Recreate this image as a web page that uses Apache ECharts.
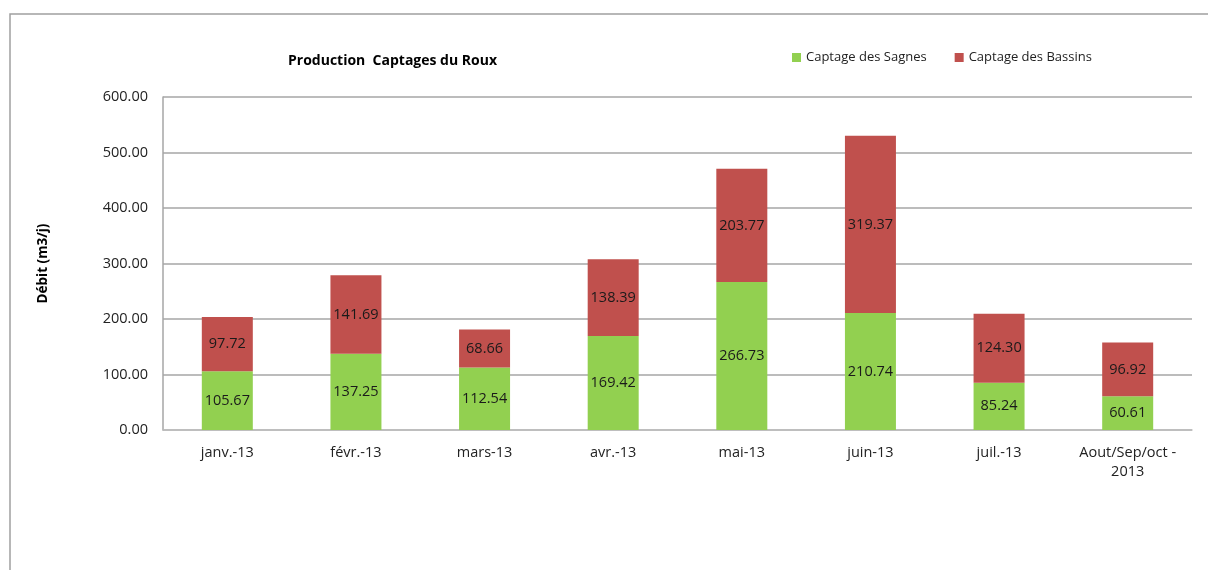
<!DOCTYPE html>
<html>
<head>
<meta charset="utf-8">
<script src="https://cdn.jsdelivr.net/npm/echarts@6/dist/echarts.min.js"></script>
<style>
  html, body { margin: 0; padding: 0; background: #fff; }
  #main { width: 1208px; height: 570px; }
</style>
</head>
<body>
<div id="main"></div>
<script>
  const categories = ['janv.-13', 'févr.-13', 'mars-13', 'avr.-13', 'mai-13', 'juin-13', 'juil.-13', 'Aout/Sep/oct -\n2013'];
  const sagnes = [105.67, 137.25, 112.54, 169.42, 266.73, 210.74, 85.24, 60.61];
  const bassins = [97.72, 141.69, 68.66, 138.39, 203.77, 319.37, 124.30, 96.92];

  const FONT = '"Open Sans", "Liberation Sans", sans-serif';
  const myChart = echarts.init(document.getElementById('main'));

  const barLabel = {
    show: true,
    position: 'inside',
    color: '#1a1a1a',
    fontFamily: FONT,
    fontSize: 14.5,
    formatter: function (p) { return p.value.toFixed(2); }
  };

  const option = {
    backgroundColor: '#fff',
    animation: false,
    textStyle: { fontFamily: FONT },
    graphic: [
      {
        type: 'rect',
        shape: { x: 10, y: 14, width: 1210, height: 570 },
        style: { fill: 'none', stroke: '#a0a0a0', lineWidth: 1.5 }
      }
    ],
    title: {
      text: 'Production  Captages du Roux',
      left: 283,
      top: 49,
      textStyle: { fontFamily: FONT, fontSize: 14, fontWeight: 'bold', color: '#000' }
    },
    legend: {
      left: 787,
      top: 46,
      itemWidth: 9,
      itemHeight: 9,
      itemGap: 28,
      icon: 'rect',
      textStyle: { fontFamily: FONT, fontSize: 13, color: '#222' },
      data: ['Captage des Sagnes', 'Captage des Bassins']
    },
    grid: { left: 163, right: 16, top: 97, bottom: 140, containLabel: false },
    xAxis: {
      type: 'category',
      data: categories,
      axisLine: { lineStyle: { color: '#bfbfbf', width: 1.5 } },
      axisTick: { show: false },
      axisLabel: { color: '#222', fontFamily: FONT, fontSize: 14.5, margin: 13, interval: 0, lineHeight: 19 }
    },
    yAxis: {
      type: 'value',
      min: 0,
      max: 600,
      interval: 100,
      name: 'Débit (m3/j)',
      nameLocation: 'middle',
      nameGap: 113,
      nameRotate: 90,
      nameTextStyle: { fontFamily: FONT, fontSize: 13.5, fontWeight: 'bold', color: '#000' },
      axisLine: { show: true, lineStyle: { color: '#a6a6a6', width: 1.5 } },
      axisTick: { show: false },
      axisLabel: {
        color: '#222', fontFamily: FONT, fontSize: 14.5, margin: 15,
        formatter: function (v) { return v.toFixed(2); }
      },
      splitLine: { lineStyle: { color: '#a6a6a6', width: 1.5 } }
    },
    series: [
      {
        name: 'Captage des Sagnes',
        type: 'bar',
        stack: 'total',
        barWidth: 51,
        data: sagnes,
        itemStyle: { color: '#92d050' },
        label: barLabel
      },
      {
        name: 'Captage des Bassins',
        type: 'bar',
        stack: 'total',
        barWidth: 51,
        data: bassins,
        itemStyle: { color: '#c0504d' },
        label: barLabel
      }
    ]
  };
  myChart.setOption(option);
</script>
</body>
</html>
